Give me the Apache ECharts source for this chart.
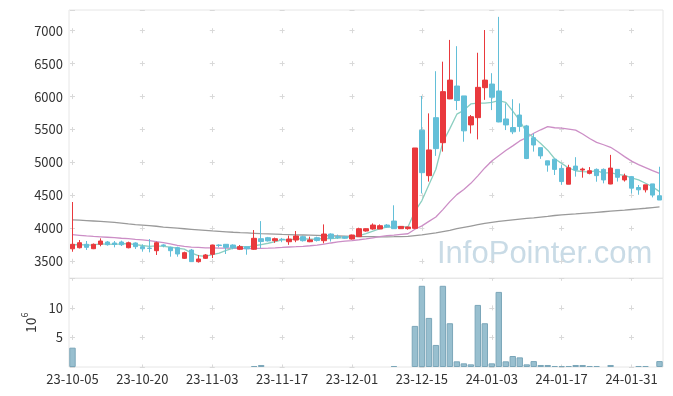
<!DOCTYPE html>
<html>
<head>
<meta charset="utf-8">
<script src="https://cdn.jsdelivr.net/npm/echarts@6/dist/echarts.min.js"></script>
<style>
html,body{margin:0;padding:0;background:#fff;}
#chart{width:673px;height:396px;}
</style>
</head>
<body>
<div id="chart"></div>
<script>
const dates = ['23-10-05','23-10-06','23-10-10','23-10-11','23-10-12','23-10-13','23-10-16','23-10-17','23-10-18','23-10-19',
'23-10-20','23-10-23','23-10-24','23-10-25','23-10-26','23-10-27','23-10-30','23-10-31','23-11-01','23-11-02',
'23-11-03','23-11-06','23-11-07','23-11-08','23-11-09','23-11-10','23-11-13','23-11-14','23-11-15','23-11-16',
'23-11-17','23-11-20','23-11-21','23-11-22','23-11-23','23-11-24','23-11-27','23-11-28','23-11-29','23-11-30',
'23-12-01','23-12-04','23-12-05','23-12-06','23-12-07','23-12-08','23-12-11','23-12-12','23-12-13','23-12-14',
'23-12-15','23-12-18','23-12-19','23-12-20','23-12-21','23-12-22','23-12-26','23-12-27','23-12-28','24-01-02',
'24-01-03','24-01-04','24-01-05','24-01-08','24-01-09','24-01-10','24-01-11','24-01-12','24-01-15','24-01-16',
'24-01-17','24-01-18','24-01-19','24-01-22','24-01-23','24-01-24','24-01-25','24-01-26','24-01-29','24-01-30',
'24-01-31','24-02-01','24-02-02','24-02-05','24-02-06'];

const openP = [3690,3706,3758,3691,3758,3793,3778,3793,3706,3778,
3722,3700,3661,3748,3712,3707,3545,3671,3494,3545,
3606,3747,3758,3747,3682,3722,3682,3843,3858,3813,
3835,3797,3823,3874,3797,3858,3813,3914,3874,3874,
3838,3874,3960,3990,3990,4050,4111,3995,3995,4000,
5490,4800,5680,5300,5965,6160,6010,5570,5680,6135,
6190,6085,5660,5530,5720,5555,5375,5225,5025,5050,
4910,4670,4945,4885,4835,4895,4895,4673,4895,4735,
4785,4620,4585,4675,4495];

const closeP = [3758,3782,3712,3758,3808,3752,3755,3752,3782,3722,
3690,3695,3782,3740,3661,3611,3631,3495,3535,3596,
3747,3740,3712,3707,3722,3690,3849,3800,3810,3843,
3830,3838,3884,3813,3825,3815,3914,3850,3860,3850,
3899,3995,3995,4050,4040,4020,3995,4030,4020,5220,
4845,5190,5210,6075,6250,5940,5480,5695,6140,6250,
5990,5615,5570,5465,5545,5060,5265,5100,4960,4895,
4710,4920,4885,4900,4875,4800,4735,4915,4775,4795,
4610,4585,4660,4505,4430];

const lowP = [3645,3695,3672,3685,3728,3737,3712,3732,3697,3687,
3646,3636,3596,3712,3570,3570,3535,3490,3480,3535,
3550,3712,3611,3682,3671,3600,3672,3700,3800,3780,
3790,3750,3790,3800,3790,3800,3772,3800,3840,3840,
3830,3874,3950,3980,3990,4010,3995,3990,3980,3990,
4530,4710,5100,5165,5960,5795,5315,5440,5350,5950,
5795,5610,5492,5430,5467,5050,5165,5055,4860,4810,
4660,4670,4785,4769,4820,4708,4683,4670,4710,4710,
4530,4510,4545,4470,4430];

const highP = [4400,3823,3808,3770,3848,3808,3808,3813,3798,3788,
3758,3838,3798,3758,3722,3722,3646,3687,3596,3610,
3752,3758,3762,3758,3747,3722,3975,4110,3870,3860,
3855,3890,3960,3890,3874,3874,4060,3925,3905,3885,
3905,4010,4000,4075,4060,4065,4350,4035,4025,5220,
6010,5745,6385,6530,6860,6765,6010,5720,6665,7010,
6355,7210,5897,5960,5897,5570,5440,5225,5025,5055,
4960,4965,5080,4921,4930,4910,4910,5115,4896,4830,
4795,4658,4660,4675,4935];

const volumeM = [3.27,0.03,0.03,0.03,0.03,0.03,0.03,0.03,0.03,0.03,
0.03,0.03,0.03,0.03,0.03,0.03,0.03,0.03,0.03,0.03,
0.03,0.03,0.03,0.03,0.03,0.03,0.17,0.34,0.03,0.03,
0.03,0.03,0.03,0.03,0.03,0.03,0.03,0.03,0.03,0.03,
0.03,0.03,0.03,0.03,0.03,0.03,0.17,0.05,0.05,6.95,
13.73,8.3,3.73,13.73,7.4,0.96,0.62,0.45,10.5,7.4,
0.62,12.7,0.96,1.86,1.63,0.45,1.0,0.34,0.34,0.17,
0.17,0.17,0.34,0.34,0.17,0.17,0.05,0.34,0.05,0.05,
0.05,0.17,0.17,0.05,1.0];

const ma5 = [3750,3755,3745,3750,3764,3762,3757,3765,3770,3753,
3740,3728,3734,3726,3714,3698,3685,3628,3587,3574,
3601,3623,3666,3700,3726,3714,3736,3754,3774,3798,
3826,3824,3841,3842,3838,3835,3850,3843,3853,3858,
3875,3891,3920,3958,3996,4020,4020,4027,4021,4257,
4422,4661,4897,5308,5514,5733,5791,5888,5901,5901,
5911,5938,5913,5778,5637,5451,5381,5287,5186,5056,
4986,4917,4874,4862,4858,4876,4839,4845,4820,4804,
4766,4736,4685,4631,4558];

const ma20 = [3905,3895,3885,3878,3872,3865,3858,3850,3843,3834,
3826,3815,3800,3785,3765,3742,3727,3715,3710,3705,
3703,3700,3700,3698,3695,3693,3695,3697,3699,3704,
3710,3717,3722,3728,3736,3746,3760,3778,3794,3806,
3815,3827,3840,3857,3873,3889,3896,3908,3918,3987,
4038,4106,4172,4285,4406,4512,4591,4683,4797,4917,
5022,5103,5181,5252,5327,5379,5443,5496,5543,5527,
5520,5507,5491,5432,5363,5306,5269,5230,5162,5089,
5020,4968,4923,4875,4835];

const ma60 = [4130,4124,4118,4112,4106,4098,4090,4080,4068,4058,
4050,4042,4032,4018,4010,4002,3994,3986,3978,3970,
3962,3955,3948,3941,3935,3930,3925,3920,3916,3912,
3908,3905,3902,3899,3896,3893,3890,3887,3884,3881,
3878,3876,3874,3873,3872,3872,3873,3875,3878,3890,
3900,3915,3930,3950,3970,3995,4015,4035,4055,4075,
4090,4105,4118,4130,4140,4150,4160,4172,4182,4195,
4205,4213,4220,4228,4236,4244,4252,4260,4268,4276,
4286,4296,4305,4316,4327];

const priceTicks = ['3500','4000','4500','5000','5500','6000','6500','7000'];
const volTicks = ['5','10'];
const watermark = 'InfoPointer.com';

const candleData = dates.map((d, i) => [openP[i], closeP[i], lowP[i], highP[i]]);
const volData = volumeM.map(v => v * 1e6);

const FONT = 'Noto Sans CJK KR';
const labelColor = '#333';
const crossColor = '#d9d9d9';
const volColor = '#98bfcf';

const chart = echarts.init(document.getElementById('chart'), null, {renderer: 'canvas'});
chart.setOption({
  animation: false,
  backgroundColor: '#fff',
  textStyle: {fontFamily: FONT},
  grid: [
    {left: 69, right: 10, top: 10, height: 268.3, show: true, borderColor: '#e6e6e6', borderWidth: 1, backgroundColor: 'transparent'},
    {left: 69, right: 10, top: 278.3, height: 88.7, show: true, borderColor: '#e6e6e6', borderWidth: 1, backgroundColor: 'transparent'}
  ],
  visualMap: {
    type: 'piecewise', show: false, seriesIndex: 4, dimension: 1,
    pieces: [
      {lt: 100000, color: volColor, opacity: 0},
      {gte: 100000, color: volColor, opacity: 1}
    ]
  },
  xAxis: [
    {
      type: 'category', gridIndex: 0, data: dates, boundaryGap: true,
      axisLine: {show: false}, axisTick: {show: false}, axisLabel: {show: false},
      splitLine: {show: true, interval: 9, alignWithLabel: true,
        lineStyle: {color: crossColor, width: 1, type: [5, 27.94], dashOffset: 14.75}}
    },
    {
      type: 'category', gridIndex: 1, data: dates, boundaryGap: true,
      axisLine: {show: false}, axisTick: {show: false},
      axisLabel: {show: true, interval: 9, color: labelColor, fontSize: 13, fontFamily: FONT, margin: 6},
      splitLine: {show: true, interval: 9, alignWithLabel: true,
        lineStyle: {color: crossColor, width: 1, type: [5, 24.57], dashOffset: 2.5}}
    }
  ],
  yAxis: [
    {
      type: 'value', gridIndex: 0, min: 3242, max: 7314, splitNumber: 8, scale: true,
      axisLine: {show: false}, axisTick: {show: false},
      axisLabel: {color: labelColor, fontSize: 13, fontFamily: FONT, margin: 6,
        showMinLabel: false, showMaxLabel: false,
        formatter: v => priceTicks.indexOf(String(v)) >= 0 ? String(v) : ''},
      splitLine: {show: true, lineStyle: {color: crossColor, width: 1, type: [5, 64.88], dashOffset: 68.89}}
    },
    {
      type: 'value', gridIndex: 1, min: 0, max: 15e6, interval: 5e6,
      axisLine: {show: false}, axisTick: {show: false},
      axisLabel: {color: labelColor, fontSize: 13, fontFamily: FONT, margin: 6,
        showMinLabel: false, showMaxLabel: false,
        formatter: v => { const s = String(Math.round(v / 1e6)); return volTicks.indexOf(s) >= 0 ? s : ''; }},
      name: '{a|10}{b|6}', nameLocation: 'middle', nameGap: 31, nameRotate: 90,
      nameTextStyle: {color: labelColor, fontFamily: FONT,
        rich: {
          a: {fontSize: 14, color: labelColor, fontFamily: FONT, lineHeight: 18, verticalAlign: 'bottom'},
          b: {fontSize: 9, color: labelColor, fontFamily: FONT, lineHeight: 18, verticalAlign: 'top'}
        }},
      splitLine: {show: true, lineStyle: {color: crossColor, width: 1, type: [5, 64.88], dashOffset: 68.89}}
    }
  ],
  graphic: [
    {
      type: 'text', left: 437, top: 239, z: 0, silent: true,
      style: {text: watermark, font: '31px "Liberation Sans"', fill: '#c9dbe6'}
    }
  ],
  series: [
    {
      name: 'MA60', type: 'line', xAxisIndex: 0, yAxisIndex: 0, data: ma60,
      symbol: 'none', lineStyle: {color: '#9a9a9a', width: 1.3}, z: 2
    },
    {
      name: 'MA20', type: 'line', xAxisIndex: 0, yAxisIndex: 0, data: ma20,
      symbol: 'none', lineStyle: {color: '#cc8ec6', width: 1.3}, z: 2
    },
    {
      name: 'MA5', type: 'line', xAxisIndex: 0, yAxisIndex: 0, data: ma5,
      symbol: 'none', lineStyle: {color: '#8ccfc1', width: 1.3}, z: 2
    },
    {
      name: 'price', type: 'candlestick', xAxisIndex: 0, yAxisIndex: 0, data: candleData,
      barWidth: 5, z: 3,
      itemStyle: {color: '#e9393d', color0: '#63bfd8', borderColor: '#e9393d', borderColor0: '#63bfd8', borderWidth: 1}
    },
    {
      name: 'volume', type: 'bar', xAxisIndex: 1, yAxisIndex: 1, data: volData,
      barWidth: 6.4,
      itemStyle: {color: volColor, borderColor: '#7ba6b9', borderWidth: 1}
    }
  ]
});
</script>
</body>
</html>
